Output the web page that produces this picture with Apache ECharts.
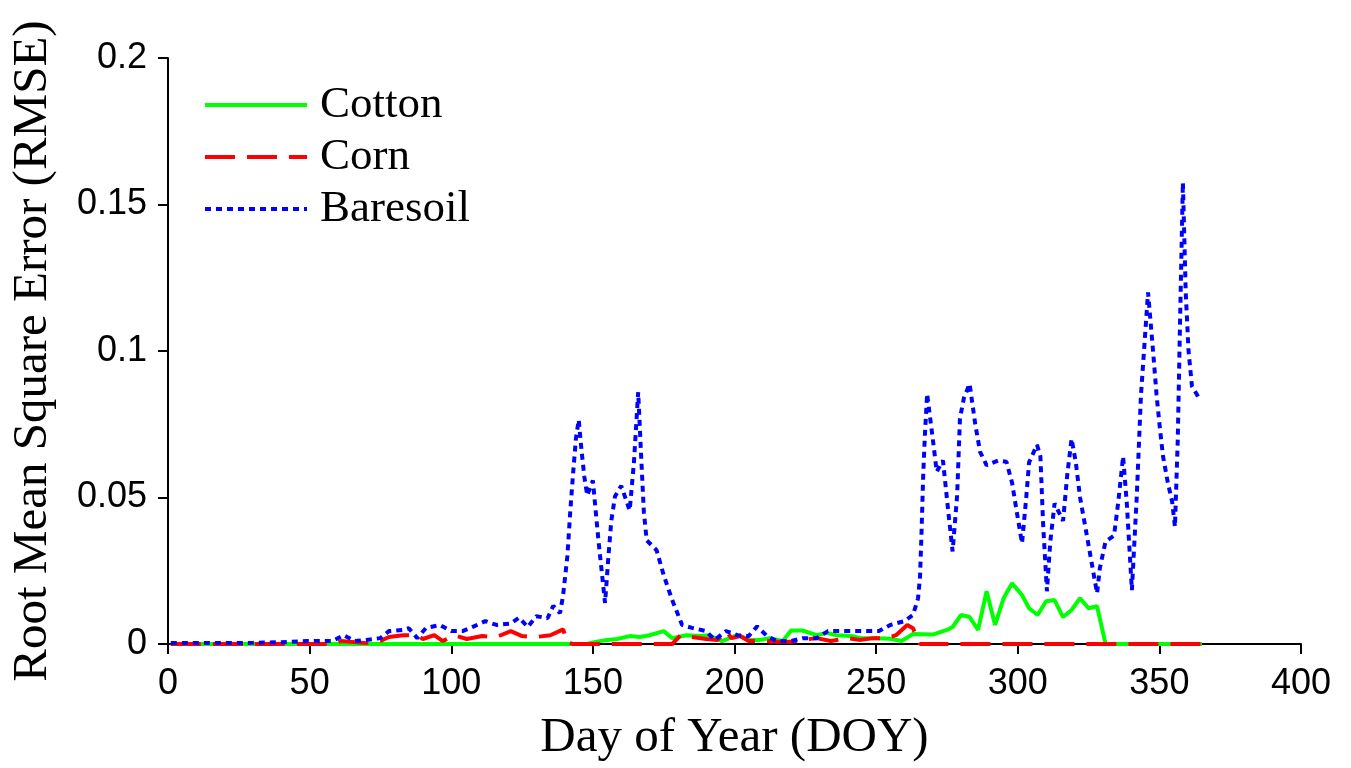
<!DOCTYPE html>
<html>
<head>
<meta charset="utf-8">
<script src="https://cdn.jsdelivr.net/npm/echarts@6/dist/echarts.min.js"></script>
<style>
html,body{margin:0;padding:0;background:#fff;}
#chart{width:1351px;height:768px;}
</style>
</head>
<body>
<div id="chart"></div>
<script>
// Data: [day of year, RMSE]
const seriesNames = ['Cotton', 'Corn', 'Baresoil'];
const xTicks = [0, 50, 100, 150, 200, 250, 300, 350, 400];
const yTicks = [0, 0.05, 0.1, 0.15, 0.2];

const cotton = [
  [1,0],[148,0],[150,0.0005],[155,0.0014],[158.5,0.0017],[163,0.0027],[166.6,0.0024],[170,0.003],
  [175,0.0044],[178,0.002],[183,0.003],[188,0.0027],[191,0.003],[195.6,0.001],[201,0.003],
  [205.5,0.0014],[209,0.0014],[212.5,0.002],[217,0.001],[220,0.0046],[224,0.0046],[229,0.003],
  [232.6,0.0038],[236,0.003],[241,0.0027],[245,0.002],[250,0.002],[255,0.0018],[259,0.001],
  [263,0.0034],[270,0.0032],[275,0.0048],[277,0.0058],[280,0.0099],[283,0.0092],[286,0.0048],
  [289,0.018],[292,0.0065],[295,0.0156],[298,0.0207],[301.5,0.0167],[304,0.0122],[307,0.0099],
  [310,0.0146],[313,0.015],[316,0.0092],[319,0.0116],[322,0.0156],[325,0.0122],[328,0.0129],
  [331,0],[365,0]
];

const corn = [
  [1,0],[58,0],[61,0.001],[70,0.0003],[75,0.001],[78,0.0024],[83,0.003],[88,0.003],[90,0.0017],
  [94,0.003],[97,0.001],[101,0.003],[105.5,0.0017],[111,0.0027],[116,0.0024],[121,0.0044],
  [125,0.0027],[130,0.0024],[135,0.003],[139.5,0.005],[141,0.0005],[143,0],[178,0],[181,0.003],
  [185,0.0024],[190,0.0017],[194,0.0014],[197,0.0044],[199,0.002],[202,0.0027],[205,0.001],
  [209,0.001],[215,0.0008],[220,0.0008],[224,0.0014],[229,0.002],[234,0.001],[240,0.002],
  [244,0.0014],[249,0.002],[254,0.002],[257,0.003],[261,0.0065],[263,0.0054],[265.5,0],[365,0]
];

const baresoil = [
  [1,0.0003],[10,0.0003],[20,0.0003],[30,0.0004],[40,0.0006],[49,0.001],[58,0.001],[62,0.003],
  [66,0.001],[70,0.0014],[75,0.002],[78,0.0044],[83,0.0048],[85,0.0054],[88,0.002],[91,0.0054],
  [96,0.0065],[100,0.0044],[104,0.0044],[108,0.006],[112,0.0078],[116,0.0065],[121,0.007],
  [124,0.009],[127,0.0058],[130,0.0095],[134,0.0088],[136,0.013],[138.4,0.0105],[139.5,0.0167],
  [141,0.03],[142,0.045],[143,0.058],[144,0.07],[145,0.0765],[146,0.066],[147,0.057],[148,0.0507],
  [150,0.0558],[152,0.035],[154.3,0.014],[155.5,0.03],[156.5,0.042],[157.8,0.0503],[160,0.054],
  [163,0.0456],[164.5,0.062],[166,0.086],[167,0.065],[168,0.045],[169,0.0354],[172.5,0.032],
  [175,0.0235],[178,0.015],[181.5,0.0065],[185,0.0055],[190,0.0044],[193,0.0014],[197,0.0044],
  [201,0.003],[205,0.0027],[208,0.006],[211.5,0.0027],[215,0.001],[220,0.001],[224,0.002],
  [229,0.002],[233,0.0044],[238,0.0044],[242,0.0044],[246,0.0044],[251,0.0044],[255,0.0065],
  [260,0.0078],[263,0.0099],[264,0.013],[264.8,0.0156],[265.5,0.023],[266,0.037],[266.6,0.057],
  [267.2,0.071],[268,0.0854],[270,0.07],[271.4,0.0588],[273.6,0.0626],[275.5,0.045],[277,0.0316],
  [278.6,0.0507],[279.6,0.077],[281,0.084],[283,0.0888],[285,0.075],[286.7,0.0656],[289,0.061],
  [293,0.0626],[296,0.0622],[298,0.055],[299.5,0.046],[301.5,0.0344],[303,0.05],[304,0.062],
  [306.8,0.068],[308,0.064],[309,0.04],[310.3,0.018],[311.5,0.035],[313,0.048],[316,0.042],
  [317.5,0.058],[319,0.07],[320.5,0.062],[322,0.05],[324.4,0.037],[328,0.0173],[329,0.026],
  [331,0.035],[334,0.037],[335.5,0.0486],[337.2,0.064],[338.5,0.048],[340.3,0.0184],[342,0.05],
  [343.5,0.085],[346,0.12],[347.8,0.0997],[349,0.085],[350.2,0.0735],[351.3,0.064],[353,0.055],
  [354.5,0.0486],[355.5,0.04],[356.5,0.07],[357.3,0.11],[358.3,0.1575],[359.3,0.12],[360.3,0.1],
  [361.5,0.088],[363.7,0.0844]
];

const colors = ['#00ff00', '#ff0000', '#0000ff'];
const dashes = ['solid', [30, 12], [6, 5]];

const chart = echarts.init(document.getElementById('chart'), null, {renderer: 'canvas'});

const sansFont = '"Liberation Sans", Arial, Helvetica, sans-serif';
const serifFont = '"Liberation Serif", "Times New Roman", serif';

const axisCommon = {
  axisLine: {show: true, lineStyle: {color: '#000', width: 2}},
  axisTick: {show: true, inside: false, length: 10, lineStyle: {color: '#000', width: 2}},
  splitLine: {show: false},
  axisLabel: {color: '#000', fontSize: 36, fontFamily: sansFont}
};

const legendData = seriesNames.map((n, i) => ({
  name: n,
  itemStyle: {opacity: 0},
  lineStyle: {color: colors[i], width: 4, type: dashes[i], opacity: 1}
}));

const dataSets = [cotton, corn, baresoil];

chart.setOption({
  animation: false,
  backgroundColor: '#fff',
  grid: {left: 168, right: 50, top: 58, bottom: 122, containLabel: false},
  legend: {
    orient: 'vertical',
    left: 203,
    top: 79,
    padding: 0,
    itemGap: 0,
    itemWidth: 102,
    itemHeight: 14,
    data: legendData,
    textStyle: {fontSize: 45, fontFamily: serifFont, color: '#000', lineHeight: 52, padding: [0, 0, 0, 8]}
  },
  xAxis: Object.assign({}, axisCommon, {
    type: 'value',
    min: xTicks[0],
    max: xTicks[xTicks.length - 1],
    interval: 50,
    name: 'Day of Year (DOY)',
    nameLocation: 'middle',
    nameGap: 70,
    nameTextStyle: {fontSize: 49, fontFamily: serifFont, color: '#000'},
    axisLabel: Object.assign({}, axisCommon.axisLabel, {margin: 22})
  }),
  yAxis: Object.assign({}, axisCommon, {
    type: 'value',
    min: yTicks[0],
    max: yTicks[yTicks.length - 1],
    interval: 0.05,
    name: 'Root Mean Square Error (RMSE)',
    nameLocation: 'middle',
    nameGap: 110,
    nameTextStyle: {fontSize: 49, fontFamily: serifFont, color: '#000'},
    axisLabel: Object.assign({}, axisCommon.axisLabel, {margin: 21})
  }),
  series: seriesNames.map((n, i) => ({
    name: n, type: 'line', data: dataSets[i], symbol: 'none', showSymbol: false,
    lineStyle: {color: colors[i], width: 4, type: dashes[i]}, itemStyle: {color: colors[i]}
  }))
});
</script>
</body>
</html>
